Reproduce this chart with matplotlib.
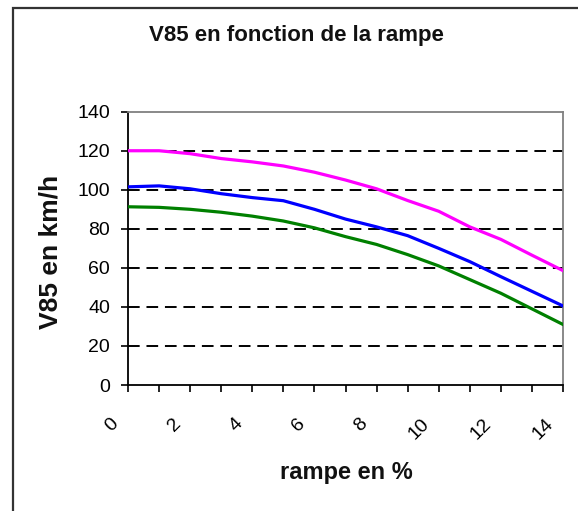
import numpy as np
import matplotlib
matplotlib.use("Agg")
import matplotlib.pyplot as plt
from matplotlib.patches import Rectangle
from matplotlib.transforms import ScaledTranslation

plt.rcParams["font.family"] = ["Liberation Sans", "DejaVu Sans"]

# rampe (%) and V85 (km/h), one value per integer slope
RAMPE = list(range(15))
V85_MAGENTA = [120, 120, 118.5, 116, 114.3, 112.2, 109, 105, 100.5, 94.5, 89, 81, 74.6, 66.5, 58.6]
V85_BLUE = [101.5, 102, 100.5, 98, 96, 94.4, 90, 85, 81, 76.5, 70, 63.2, 55.5, 48, 40.5]
V85_GREEN = [91.3, 91, 90, 88.5, 86.5, 84, 80.5, 76, 72, 66.8, 61, 54, 47, 39, 31]
SERIES = [(V85_MAGENTA, "#ff00ff"), (V85_BLUE, "#0000ff"), (V85_GREEN, "#008000")]

YTICKS = [0, 20, 40, 60, 80, 100, 120, 140]
XTICKS = [0, 2, 4, 6, 8, 10, 12, 14]

W, H = 578, 511
fig = plt.figure(figsize=(W / 100, H / 100), dpi=100)
fig.patch.set_facecolor("white")
ax = fig.add_axes([128 / W, 1 - 385 / H, (563 - 128) / W, (385 - 111.7) / H])

for y in YTICKS[1:-1]:
    ax.axhline(y, color="black", lw=1.4, ls=(0, (6, 3.5)), zorder=1)

for vals, col in SERIES:
    ax.plot(RAMPE, vals, color=col, lw=2.3, solid_joinstyle="round", zorder=3)

ax.set_xlim(0, 14)
ax.set_ylim(0, 140)
ax.set_yticks(YTICKS)
ax.set_xticks(XTICKS)
ax.set_xticks(range(1, 15, 2), minor=True)
ax.tick_params(axis="both", which="both", direction="out", length=5, width=1.2,
               color="black", labelsize=14)
ax.tick_params(axis="y", pad=8)
ax.tick_params(axis="x", pad=21)

off = ScaledTranslation(-12 / 100, 0, fig.dpi_scale_trans)
for lab in ax.get_xticklabels():
    lab.set_rotation(45)
    lab.set_ha("right")
    lab.set_va("center")
    lab.set_rotation_mode("anchor")
    lab.set_transform(lab.get_transform() + off)

for side in ("left", "bottom"):
    ax.spines[side].set_color("black")
    ax.spines[side].set_linewidth(1.3)
for side in ("top", "right"):
    ax.spines[side].set_color("#808080")
    ax.spines[side].set_linewidth(1.3)

fig.text(296.5 / W, 1 - 36 / H, "V85 en fonction de la rampe", fontsize=16,
         fontweight="bold", ha="center", va="center", color="#111111")
fig.text(51 / W, 1 - 252 / H, "V85 en km/h", fontsize=19, fontweight="bold",
         rotation=90, ha="center", va="center", color="#111111")
fig.text(346 / W, 1 - 472 / H, "rampe en %", fontsize=17, fontweight="bold",
         ha="center", va="center", color="#111111")

# outer chart frame, cut off on the right and bottom like the reference
fig.patches.append(Rectangle((13 / W, -0.2), 1.5, (1 - 8 / H) + 0.2,
                             transform=fig.transFigure, fill=False,
                             edgecolor="#333333", lw=1.6, zorder=0))

fig.savefig("out.png", dpi=100)
